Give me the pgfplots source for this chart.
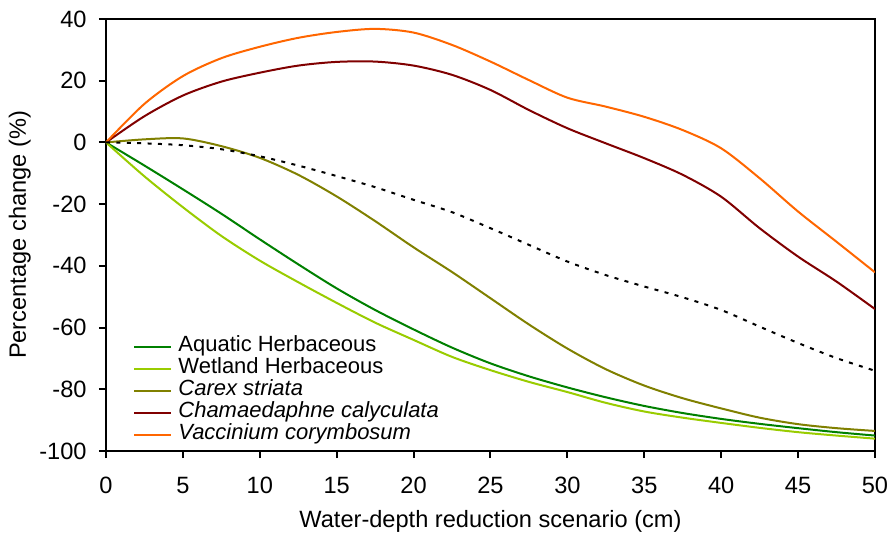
\documentclass[border=0pt]{standalone}
\usepackage{pgfplots}
\pgfplotsset{compat=1.18}
\usepackage{pgfplotstable}
\usepackage{fontspec}
\setmainfont{Liberation Sans}
\definecolor{aquatic}{RGB}{0,128,0}
\definecolor{wetland}{RGB}{153,204,0}
\definecolor{carex}{RGB}{128,128,0}
\definecolor{chama}{RGB}{128,0,0}
\definecolor{vacc}{RGB}{255,102,0}

\pgfplotstableread{
x aq wet car cha vac tot
0 0 0 0 0 0 0
2.5 -7.5 -11 1.0 8.5 12.5 -0.3
5 -15.2 -21 1.3 15.2 21.5 -0.9
7.5 -23.1 -30.3 -1.2 19.7 27.3 -2.2
10 -31.4 -38.3 -5 22.6 31 -4.5
12.5 -39.5 -45.3 -10.5 24.9 33.9 -7.5
15 -47.3 -52 -17.5 26.1 35.8 -10.9
17.5 -54.3 -58.4 -25.5 26.2 36.8 -14.5
20 -60.6 -64 -34 24.9 35.6 -18.6
22.5 -66.5 -69.5 -42 21.9 31.6 -22.6
25 -71.6 -73.8 -50.5 17 26.2 -27.8
27.5 -75.8 -77.6 -59 10.5 20.2 -33.2
30 -79.4 -80.9 -66.8 4.6 14.5 -38.6
32.5 -82.6 -84.4 -73.5 -0.3 11.6 -43
35 -85.4 -87.2 -78.8 -5.1 8.3 -46.7
37.5 -87.7 -89.2 -82.9 -10.5 4.0 -50.2
40 -89.6 -90.9 -86.2 -17.6 -1.9 -54.3
42.5 -91.2 -92.5 -89.2 -27.8 -11.6 -59.7
45 -92.6 -93.9 -91.3 -37 -22.4 -65
47.5 -93.9 -95.0 -92.6 -45.1 -32.2 -69.9
50 -95.0 -96 -93.5 -54 -42.1 -74
}\data

\begin{document}
\begin{tikzpicture}
\begin{axis}[
  at={(0,0)}, anchor=south west,
  scale only axis, width=384.5pt, height=216pt,
  xmin=0, xmax=50, ymin=-100, ymax=40,
  xtick={0,5,...,50}, ytick={-100,-80,...,40},
  xticklabels={0,5,10,15,20,25,30,35,40,45,50},
  yticklabels={-100,-80,-60,-40,-20,0,20,40},
  tick align=outside, major tick length=3.5pt,
  xtick pos=bottom, ytick pos=left,
  axis line style={line width=1pt},
  every tick/.style={black, line width=1pt},
  tick label style={font=\fontsize{11.8}{13}\selectfont},
  xticklabel style={anchor=base, inner sep=0pt, yshift=-17.5pt},
  yticklabel style={anchor=east, inner sep=0pt, xshift=-6pt},
  label style={font=\fontsize{11.8}{13}\selectfont},
  xlabel={Water-depth reduction scenario (cm)},
  ylabel={Percentage change (\%)},
  xlabel style={at={(axis description cs:0.5,-0.1782)}, anchor=base},
  ylabel style={at={(axis description cs:-0.112,0.5)}, anchor=center},
  legend cell align=left,
  legend style={draw=none, fill=none, at={(axis description cs:0,0)}, anchor=south west,
    xshift=13.5pt, yshift=2.5pt, inner sep=0pt, row sep=0pt, column sep=3pt,
    nodes={inner sep=0pt, text height=8pt, text depth=3pt, font=\fontsize{11}{13}\selectfont}},
  legend image code/.code={\draw[#1] (0pt,0pt)--(18.5pt,0pt);},
  every axis plot/.append style={line width=1pt, smooth},
]
\addplot[aquatic] table[x=x,y=aq]{\data};
\addlegendentry{Aquatic Herbaceous}
\addplot[wetland] table[x=x,y=wet]{\data};
\addlegendentry{Wetland Herbaceous}
\addplot[carex] table[x=x,y=car]{\data};
\addlegendentry{\textit{Carex striata}}
\addplot[chama] table[x=x,y=cha]{\data};
\addlegendentry{\textit{Chamaedaphne calyculata}}
\addplot[vacc] table[x=x,y=vac]{\data};
\addlegendentry{\textit{Vaccinium corymbosum}}
\addplot[black, dash pattern=on 2pt off 3.2pt, forget plot] table[x=x,y=tot]{\data};
\end{axis}
\pgfresetboundingbox
\path (-53pt,-43pt) rectangle (392.5pt,225.5pt);
\end{tikzpicture}
\end{document}
